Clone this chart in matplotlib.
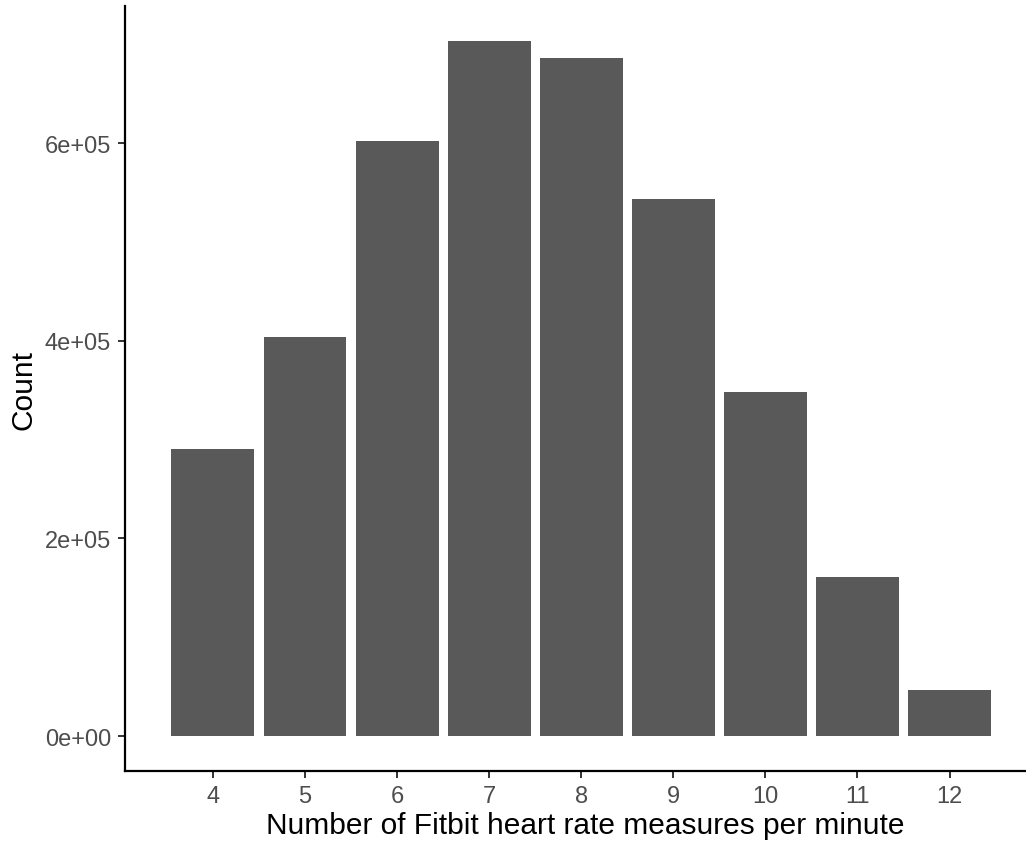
import matplotlib
matplotlib.use("Agg")
import matplotlib.pyplot as plt

# Fitbit heart rate readings per minute and how often each occurs
measures = [4, 5, 6, 7, 8, 9, 10, 11, 12]
counts = [290500, 404000, 602500, 703800, 686500, 543800, 348400, 161000, 46600]
yticks = [0, 200000, 400000, 600000]
ytick_labels = ["0e+00", "2e+05", "4e+05", "6e+05"]

plt.rcParams["font.family"] = ["Liberation Sans", "DejaVu Sans"]

fig = plt.figure(figsize=(10.26, 8.45), dpi=100)
ax = fig.add_axes([0.1218, 0.0864, 0.8782, 0.9053])

ax.bar(measures, counts, width=0.9, color="#595959")

ax.set_xlim(3.045, 12.83)
ax.set_ylim(-35400, 738700)
ax.set_xticks(measures)
ax.set_yticks(yticks)
ax.set_yticklabels(ytick_labels)

for side in ["top", "right"]:
    ax.spines[side].set_visible(False)
for side in ["left", "bottom"]:
    ax.spines[side].set_linewidth(1.6)
    ax.spines[side].set_color("black")

ax.tick_params(labelsize=17, labelcolor="#4D4D4D", length=5, width=1.4, color="#333333", pad=5)
ax.set_xlabel("Number of Fitbit heart rate measures per minute", fontsize=21.5, labelpad=4)
ax.xaxis.set_label_coords(0.511, -0.052)
ax.set_ylabel("Count", fontsize=21.5, labelpad=5)

fig.savefig("out.png", dpi=100)
